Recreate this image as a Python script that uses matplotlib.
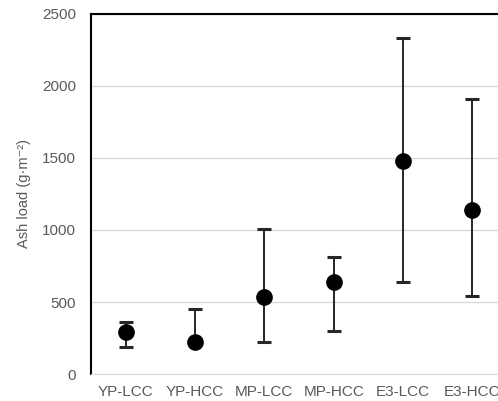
import matplotlib.pyplot as plt

plt.rcParams['font.family'] = ['Liberation Sans', 'DejaVu Sans']

categories = ["YP-LCC", "YP-HCC", "MP-LCC", "MP-HCC", "E3-LCC", "E3-HCC"]
means = [291, 226, 538, 640, 1476, 1139]
upper = [362, 450, 1005, 815, 2333, 1906]
lower = [189, 210, 224, 302, 642, 543]

err_low = [m - l for m, l in zip(means, lower)]
err_high = [u - m for m, u in zip(means, upper)]

fig = plt.figure(figsize=(4.98, 4.01), dpi=100)
# axis runs past the right edge like the original
ax = fig.add_axes([0.183, 0.067, 0.835, 0.899])

x = list(range(len(categories)))
ax.errorbar(x, means, yerr=[err_low, err_high], fmt="o", color="black",
            ecolor="#262626", elinewidth=1.4, capsize=5, capthick=2.2,
            markersize=11, zorder=3)

ax.set_xlim(-0.5, len(categories) - 0.5)
ax.set_ylim(0, 2500)
ax.set_yticks(range(0, 2501, 500))
ax.set_xticks(x)
ax.set_xticklabels(categories)
ax.yaxis.grid(True, color="#d9d9d9", linewidth=1)
ax.set_axisbelow(True)
ax.tick_params(length=0, labelsize=11, labelcolor="#595959")
ax.tick_params(axis="y", pad=11)
ax.tick_params(axis="x", pad=8)

for side in ["left", "top"]:
    ax.spines[side].set_color("black")
    ax.spines[side].set_linewidth(1.5)
ax.spines["right"].set_visible(False)
ax.spines["bottom"].set_color("#d9d9d9")

ax.set_ylabel("Ash load (g·m⁻²)", fontsize=10.5, color="#595959", labelpad=8)

fig.savefig("out.png", dpi=100)
